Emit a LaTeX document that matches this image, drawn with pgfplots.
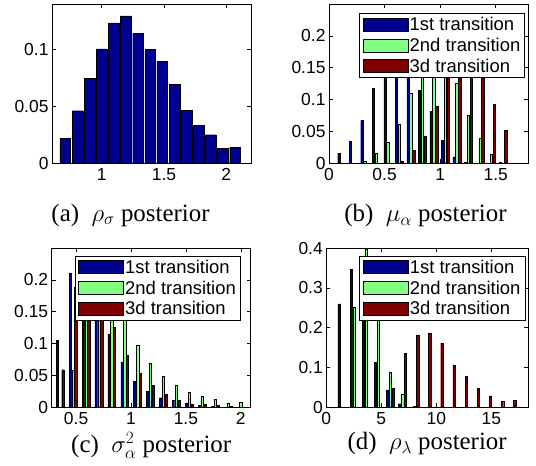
\documentclass[border=0pt]{standalone}
\usepackage{fontspec}
\setmainfont{Liberation Serif}
\setsansfont{Liberation Sans}
\usepackage{pgfplots}
\pgfplotsset{compat=1.18}

\definecolor{tblue}{rgb}{0,0,0.5625}
\definecolor{tgreen}{rgb}{0.5,1,0.5}
\definecolor{tred}{rgb}{0.5,0,0}

\pgfplotsset{
  panel/.style={
    scale only axis, width=199bp, height=159.3bp,
    anchor=south west,
    axis line style={line width=0.8bp},
    tick align=inside, major tick length=4bp,
    every tick/.style={black, line width=0.6bp},
    tick label style={font=\fontsize{17.5}{20}\selectfont\sffamily},
    xticklabel style={yshift=-2bp},
    /pgf/number format/assume math mode=true,
    /pgf/number format/fixed,
    ymin=0,
    xlabel style={font=\fontsize{25}{28}\selectfont\rmfamily, yshift=2bp},
    legend style={font=\fontsize{18.5}{21}\selectfont\sffamily,
      draw=black, line width=0.8bp, fill=white, anchor=north east,
      cells={anchor=west}, inner xsep=3bp, inner ysep=2bp, row sep=3bp,
      nodes={inner sep=1.5bp}},
  },
  hbar/.style={ybar, bar shift=0pt, draw=black, line width=0.4bp,
    legend image code/.code={\draw[##1, line width=0.6bp] (0bp,-6.5bp) rectangle (45bp,6.5bp);}},
}

\begin{document}
\begin{tikzpicture}
\path[use as bounding box] (0,0) rectangle (536bp,-466bp);

% (a)
\begin{axis}[panel, at={(52bp,-163.3bp)},
  xmin=0.6, xmax=2.2, ymax=0.14,
  xtick={1,1.5,2}, ytick={0,0.05,0.1},
  xlabel={(a)\enspace$\rho_\sigma$ posterior},
  xlabel style={xshift=-21bp, yshift=-18bp}]
\addplot[hbar, bar width=0.086, fill=tblue] coordinates {
  (0.707,0.0219) (0.8045,0.0462) (0.902,0.0746) (0.9995,0.1006)
  (1.097,0.1234) (1.1945,0.1295) (1.292,0.1140) (1.3895,0.1000)
  (1.487,0.0898) (1.5845,0.0693) (1.682,0.0468) (1.7795,0.0336)
  (1.877,0.0251) (1.9745,0.0132) (2.072,0.0140)};
\end{axis}

% (b)
\begin{axis}[panel, at={(329bp,-163.3bp)},
  xmin=0, xmax=1.79, ymax=0.25,
  xtick={0,0.5,1,1.5}, ytick={0,0.05,0.1,0.15,0.2},
  xlabel={(b)\enspace$\mu_\alpha$ posterior},
  xlabel style={xshift=-3bp, yshift=-18bp},
  legend style={at={(0.986,0.942)}}]
\addplot[hbar, bar width=0.021, fill=tblue] coordinates {
  (0.089,0.016) (0.1925,0.035) (0.296,0.067) (0.3995,0.118)
  (0.503,0.165) (0.6065,0.185) (0.71,0.168) (0.8135,0.115)
  (0.917,0.081) (1.0205,0.036) (1.124,0.010) (1.2275,0.002)
  (1.538,0.001)};
\addplot[hbar, bar width=0.021, fill=tgreen] coordinates {
  (0.322,0.004) (0.4255,0.016) (0.529,0.033) (0.6325,0.062)
  (0.736,0.110) (0.8395,0.165) (0.943,0.180) (1.0465,0.176)
  (1.15,0.125) (1.2535,0.075) (1.357,0.039) (1.4605,0.015)};
\addplot[hbar, bar width=0.021, fill=tred] coordinates {
  (0.6585,0.004) (0.762,0.020) (0.8655,0.043) (0.969,0.090)
  (1.0725,0.150) (1.176,0.185) (1.2795,0.200) (1.383,0.163)
  (1.4865,0.093) (1.59,0.052)};
\legend{1st transition, 2nd transition, 3d transition}
\end{axis}

% (c)
\begin{axis}[panel, at={(51.7bp,-407.3bp)},
  xmin=0.278, xmax=2.09, ymax=0.25,
  xtick={0.5,1,1.5,2}, ytick={0,0.05,0.1,0.15,0.2},
  xlabel={(c)\enspace$\sigma^2_\alpha$ posterior},
  xlabel style={yshift=-2bp},
  legend style={at={(0.95,0.95)}}]
\addplot[hbar, bar width=0.021, fill=tblue] coordinates {
  (0.33,0.105) (0.4475,0.210) (0.565,0.205) (0.6825,0.191)
  (0.8,0.115) (0.9175,0.071) (1.035,0.041) (1.1525,0.025)
  (1.27,0.015) (1.3875,0.011) (1.505,0.007) (1.6225,0.003)
  (1.74,0.001)};
\addplot[hbar, bar width=0.021, fill=tgreen] coordinates {
  (0.4725,0.059) (0.59,0.150) (0.7075,0.170) (0.825,0.165)
  (0.9425,0.136) (1.06,0.098) (1.1775,0.070) (1.295,0.049)
  (1.4125,0.035) (1.53,0.024) (1.6475,0.017) (1.765,0.012)
  (1.8825,0.007) (2.0,0.008)};
\addplot[hbar, bar width=0.021, fill=tred] coordinates {
  (0.38,0.059) (0.4975,0.189) (0.615,0.210) (0.7325,0.200)
  (0.85,0.126) (0.9675,0.082) (1.085,0.053) (1.2025,0.035)
  (1.32,0.020) (1.4375,0.011) (1.555,0.005) (1.6725,0.005)
  (1.79,0.003) (1.9075,0.001)};
\legend{1st transition, 2nd transition, 3d transition}
\end{axis}

% (d)
\begin{axis}[panel, at={(326.3bp,-407.3bp)}, width=201.7bp,
  xmin=0, xmax=18.33, ymax=0.4,
  xtick={0,5,10,15}, ytick={0,0.1,0.2,0.3,0.4},
  xlabel={(d)\enspace$\rho_\lambda$ posterior},
  xlabel style={yshift=-2bp},
  legend style={at={(0.987,0.95)}}]
\addplot[hbar, bar width=0.21, fill=tblue] coordinates {
  (1.16,0.260) (2.263,0.347) (3.366,0.227) (4.469,0.113)
  (5.572,0.044) (6.675,0.009)};
\addplot[hbar, bar width=0.21, fill=tgreen] coordinates {
  (2.523,0.252) (3.626,0.397) (4.729,0.229) (5.832,0.088)
  (6.935,0.032) (8.038,0.002)};
\addplot[hbar, bar width=0.21, fill=tred] coordinates {
  (4.989,0.001) (6.092,0.049) (7.195,0.136) (8.298,0.182)
  (9.401,0.185) (10.504,0.161) (11.607,0.105) (12.71,0.077)
  (13.813,0.047) (14.916,0.029) (16.019,0.015) (17.122,0.017)};
\legend{1st transition, 2nd transition, 3d transition}
\end{axis}
\end{tikzpicture}
\end{document}
